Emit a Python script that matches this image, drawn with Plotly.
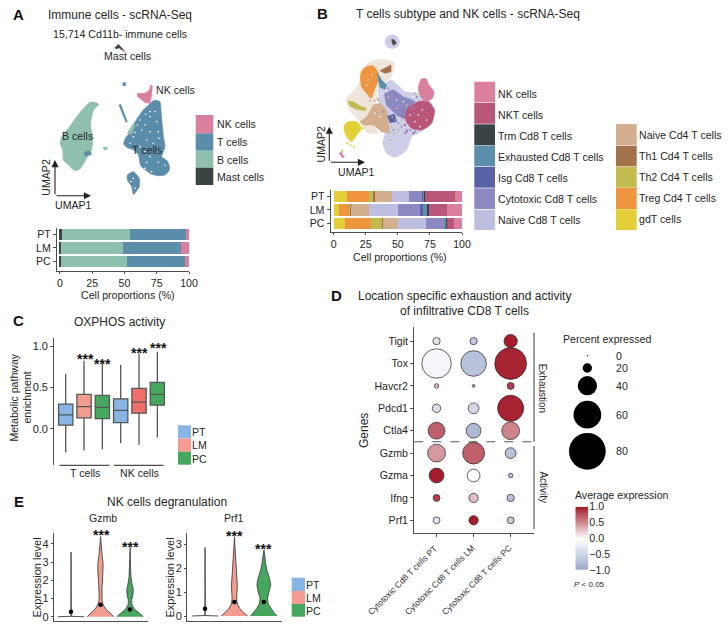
import numpy as np
import plotly.graph_objects as go

W, H = 728, 629
FONT = "Liberation Sans"
TXT = "#262626"
AXC = "#4d4d4d"
F = 10.6
FT = 12

# ---------- data ----------
loc = ["PT", "LM", "PC"]
a_mast = [1.2, 1.0, 0.5]
a_b = [53.3, 48.0, 51.5]
a_t = [43.2, 44.8, 45.2]
a_nk = [2.3, 6.2, 2.8]

b_gdt = [10.1, 4.4, 8.8]
b_treg = [17.4, 7.8, 20.2]
b_th2 = [2.9, 0.8, 9.0]
b_th1 = [1.8, 0.5, 0.5]
b_n4 = [13.0, 14.3, 11.5]
b_n8 = [13.8, 22.1, 21.7]
b_cyto = [9.6, 17.4, 14.3]
b_isg = [1.3, 2.1, 0.5]
b_exh = [0.7, 3.3, 1.3]
b_trm = [0.6, 1.6, 0.2]
b_nkt = [23.3, 13.7, 5.5]
b_nk = [5.5, 12.0, 6.5]

box_whishi = [0.668, 0.826, 0.785, 0.777, 0.910, 0.935]
box_q3 = [0.300, 0.417, 0.405, 0.364, 0.490, 0.563]
box_med = [0.170, 0.270, 0.260, 0.223, 0.324, 0.417]
box_q1 = [0.045, 0.134, 0.125, 0.077, 0.190, 0.287]
box_whislo = [-0.287, -0.263, -0.247, -0.174, -0.194, -0.105]

genes = ["Tigit", "Tox", "Havcr2", "Pdcd1", "Ctla4", "Gzmb", "Gzma", "Ifng", "Prf1"]
groups = ["Cytotoxic Cd8 T cells PT", "Cytotoxic Cd8 T cells LM", "Cytotoxic Cd8 T cells PC"]
pct_pt = [15, 64, 8, 18, 35, 37, 31, 14, 14]
pct_lm = [15, 55, 4, 23, 31, 46, 27, 20, 20]
pct_pc = [28, 69, 14, 56, 37, 23, 8, 15, 14]
exp_pt = [-0.3, -0.1, 0.3, -0.4, 0.7, 0.45, 1.0, 0.85, -0.3]
exp_lm = [-0.6, -0.7, -0.8, -0.45, -0.8, 0.7, 0.0, 0.3, 1.0]
exp_pc = [1.0, 0.97, 0.85, 0.97, 0.55, -0.7, -0.7, -0.7, -0.6]
pct_legend = [0, 20, 40, 60, 80]

vio_levels_gzmb_lm = [0, 0.2, 0.4, 0.65, 0.9, 1.2, 1.6, 2.0, 2.5, 2.9, 3.3, 3.7, 4.1, 4.4]
vio_width_gzmb_lm = [1.0, 0.72, 0.42, 0.2, 0.12, 0.1, 0.11, 0.15, 0.2, 0.2, 0.13, 0.07, 0.04, 0.01]
vio_levels_gzmb_pc = [0, 0.2, 0.4, 0.65, 0.9, 1.2, 1.5, 1.8, 2.2, 2.8, 3.3, 3.8]
vio_width_gzmb_pc = [1.0, 0.7, 0.35, 0.14, 0.12, 0.22, 0.24, 0.15, 0.07, 0.04, 0.025, 0.01]
vio_levels_gzmb_pt = [0, 0.02, 0.1, 3.55]
vio_width_gzmb_pt = [1.0, 0.02, 0.006, 0.004]
vio_levels_prf_lm = [0, 0.15, 0.3, 0.5, 0.75, 1.0, 1.3, 1.7, 2.1, 2.5, 2.9, 3.3]
vio_width_prf_lm = [1.0, 0.7, 0.42, 0.22, 0.17, 0.2, 0.22, 0.17, 0.12, 0.09, 0.04, 0.01]
vio_levels_prf_pc = [0, 0.15, 0.3, 0.5, 0.75, 1.0, 1.3, 1.6, 1.9, 2.2, 2.5, 2.75]
vio_width_prf_pc = [1.0, 0.75, 0.55, 0.33, 0.28, 0.42, 0.52, 0.42, 0.24, 0.13, 0.08, 0.01]
vio_levels_prf_pt = [0, 0.02, 0.1, 2.85]
vio_width_prf_pt = [1.0, 0.02, 0.006, 0.004]
dots_gzmb = [0.27, 0.65, 0.40]
dots_prf = [0.30, 0.58, 0.58]
cbar_levels = [-1.0, -0.8, -0.6, -0.4, -0.2, 0.0, 0.2, 0.4, 0.6, 0.8, 1.0]

# UMAP outlines (embedding units)
um_b = [(135,82),(146,88),(131,105),(125,125),(122,150),(128,190),(125,225),(110,250),(90,282),(75,287),(55,270),(40,255),(38,225),(30,205),(35,185),(55,160),(80,125),(105,95),(120,82)]
um_b2 = [(160,218),(170,216),(172,222),(162,224)]
um_b3 = [(232,175),(250,145),(255,150),(245,178)]
um_t_in_b = [(103,232),(118,228),(125,238),(105,242)]
um_t = [(298,88),(312,76),(330,80),(333,105),(335,130),(338,160),(341,190),(345,215),(338,235),(335,245),(350,256),(358,272),(358,285),(345,300),(325,302),(305,298),(288,286),(272,272),(268,252),(264,238),(250,224),(232,218),(221,207),(226,190),(240,172),(250,150),(262,130),(280,105)]
um_t2 = [(232,300),(250,290),(268,310),(268,335),(250,358),(245,335),(232,315)]
um_t3 = [(207,90),(212,88),(232,140),(228,142)]
um_t4 = [(218,25),(226,22),(227,31),(220,33)]
um_nk = [(262,55),(285,55),(298,45),(302,30),(307,32),(305,60),(300,85),(285,83),(270,70),(262,65)]
um_mast = [(195,-82),(205,-92),(212,-85),(222,-73),(216,-75),(207,-82),(199,-78)]
um_mast_tip = [(218,-75),(225,-72),(222,-69),(217,-72)]
um_holes = [(300,110),(287,118),(300,125),(270,135),(262,150),(285,150),(275,165),(300,170),(255,172),(320,140),(315,110),(250,185),(290,195),(310,205),(327,190),(285,230),(320,232),(333,222),(300,245),(290,262),(325,262),(345,270),(285,280),(250,310),(255,340),(243,320),(305,290),(270,215),(240,205),(325,170)]

ub_bg_beige = [(105,95),(150,88),(178,100),(175,125),(160,150),(130,165),(125,200),(120,290),(130,310),(100,310),(75,275),(40,235),(35,205),(60,180),(78,145),(85,115)]
ub_bg_lav = [(170,150),(210,185),(250,190),(285,215),(300,240),(285,285),(250,310),(230,320),(215,360),(180,382),(155,370),(143,340),(150,310),(140,280),(140,240),(130,170),(150,160)]
ub_top = [(172,14),(186,19),(194,36),(187,51),(172,56),(157,51),(150,36),(157,19)]
ub_top_mark = [(170,28),(178,30),(184,40),(175,46),(172,38)]
ub_treg = [(95,110),(115,108),(130,130),(128,155),(118,180),(108,205),(95,190),(80,170),(76,140),(82,120)]
ub_th1 = [(135,122),(150,115),(168,105),(168,125),(150,130)]
ub_exh = [(128,130),(140,150),(155,165),(150,178),(135,172),(130,150)]
ub_cyto = [(150,190),(175,180),(205,200),(240,215),(220,235),(210,265),(185,255),(170,240),(155,225)]
ub_nkt = [(215,240),(250,215),(280,215),(298,240),(290,280),(260,300),(230,295),(212,270)]
ub_nk = [(258,148),(272,145),(282,165),(297,185),(292,205),(270,215),(250,180)]
ub_isg = [(158,258),(178,253),(185,275),(165,278)]
ub_n4 = [(115,225),(135,220),(155,240),(162,285),(165,310),(140,305),(115,285),(85,285),(75,275),(95,260)]
ub_th2 = [(38,212),(55,215),(75,228),(95,235),(90,242),(65,238),(45,228)]
ub_gdt = [(40,275),(65,275),(80,295),(65,315),(50,335),(38,325),(27,300),(28,285)]
ub_nk2 = [(13,370),(22,362),(20,370),(28,382),(22,383)]
ub_spk_gdt = [(37,340),(47,345),(57,350),(22,362),(85,295)]
ub_spk_n4 = [(170,290),(190,300),(210,285),(165,330),(200,270),(135,215),(185,235),(215,225),(150,285),(240,190),(178,310),(128,205),(118,212),(172,262),(105,212),(160,200)]
ub_spk_cyto = [(225,300),(180,270),(235,250),(150,175),(200,290),(130,210),(260,200),(240,305),(190,280),(175,300),(215,300),(145,245),(210,310),(245,200),(160,175),(225,220),(235,235)]
ub_spk_nkt = [(205,260),(210,285),(215,305),(235,310),(222,232),(240,225),(205,245)]
ub_spk_white = [(120,200),(128,175),(155,185),(225,255),(250,255),(262,240),(275,270),(240,275),(255,290),(205,215),(185,210),(135,260),(120,250),(100,150),(110,135),(95,165),(235,200),(140,190)]

# ---------- styles ----------
CA = dict(NK="#DB7F9E", T="#5B8DAB", B="#8FC0AE", Mast="#3A4445")
CB = dict(NK="#DB7F9E", NKT="#B85578", Trm="#394345", Exh="#5B8FAB", Isg="#5862A5", Cyto="#8C88C2",
          N8="#BDBEE0", N4="#D3AE8F", Th1="#A3714A", Th2="#C1BA4E", Treg="#EF943F", Gdt="#E3CF38")
C_PT, C_LM, C_PC = "#87B5E5", "#F49C90", "#45A85E"
box_fill = [C_PT, C_LM, C_PC, C_PT, "#EF706A", C_PC]

fig = go.Figure()
layout = {}
ann = []
shp = []
_n = [0]


def axes(l, r, t, b, xr, yr, xvis=False, yvis=False, xextra=None, yextra=None):
    _n[0] += 1
    n = _n[0]
    base = dict(showgrid=False, zeroline=False, showline=False, ticks="", showticklabels=False, fixedrange=True,
                automargin=False)
    xa = dict(base, domain=[l / W, r / W], range=xr, anchor=f"y{n}")
    ya = dict(base, domain=[1 - b / H, 1 - t / H], range=yr, anchor=f"x{n}")
    style = dict(showline=True, linecolor=AXC, linewidth=1.3, ticks="outside", ticklen=3, tickwidth=1,
                 tickcolor=AXC, showticklabels=True, tickfont=dict(size=F, color=TXT, family=FONT))
    if xvis:
        xa.update(style)
    if yvis:
        ya.update(style)
    xa.update(xextra or {})
    ya.update(yextra or {})
    layout["xaxis" if n == 1 else f"xaxis{n}"] = xa
    layout["yaxis" if n == 1 else f"yaxis{n}"] = ya
    return ("x" if n == 1 else f"x{n}"), ("y" if n == 1 else f"y{n}")


# full-canvas page axis for labels and rules
axes(0, W, 0, H, [0, W], [H, 0])
fig.add_trace(go.Scatter(x=[0], y=[0], mode="markers", marker=dict(size=1, color="rgba(0,0,0,0)"), hoverinfo="skip"))


def note(x, y, text, size=F, anchor="center", angle=0, color=TXT):
    ann.append(dict(x=x, y=y, xref="x", yref="y", text=text, showarrow=False,
                    font=dict(size=size, color=color, family=FONT), xanchor=anchor, yanchor="middle",
                    textangle=angle, borderpad=0, borderwidth=0, align="center"))


def rect(l, t, r, b, color):
    shp.append(dict(type="rect", xref="x", yref="y", x0=l, x1=r, y0=b, y1=t,
                    fillcolor=color, line=dict(width=0), layer="below"))


def seg(x0, y0, x1, y1, color=AXC, width=1.2, dash="solid"):
    shp.append(dict(type="line", xref="x", yref="y", x0=x0, x1=x1, y0=y0, y1=y1,
                    line=dict(color=color, width=width, dash=dash)))


def arrow(x0, y0, x1, y1):
    ann.append(dict(x=x1, y=y1, xref="x", yref="y", ax=x0 - x1, ay=y0 - y1, text="",
                    showarrow=True, arrowhead=2, arrowsize=1.3, arrowwidth=1.1, arrowcolor="#222222", standoff=0))


def poly(pts, color, xa, ya, lw=0.6, smooth=True):
    xs = [p[0] for p in pts] + [pts[0][0]]
    ys = [p[1] for p in pts] + [pts[0][1]]
    line = dict(color=color, width=lw)
    if smooth:
        line.update(shape="spline", smoothing=0.6)
    fig.add_trace(go.Scatter(x=xs, y=ys, mode="lines", fill="toself", fillcolor=color,
                             line=line, xaxis=xa, yaxis=ya, hoverinfo="skip"))


def specks(pts, color, xa, ya, size=2.0):
    fig.add_trace(go.Scatter(x=[p[0] for p in pts], y=[p[1] for p in pts], mode="markers",
                             marker=dict(color=color, size=size), xaxis=xa, yaxis=ya, hoverinfo="skip"))


def stacked(series, colors, xa, ya):
    for vals, c in zip(series, colors):
        fig.add_trace(go.Bar(y=loc, x=vals, orientation="h", marker=dict(color=c, line=dict(width=0)), width=0.86,
                             xaxis=xa, yaxis=ya, hoverinfo="skip"))


# ---------- panel A ----------
xa, ya = axes(50, 175, 40, 200, [0, 375], [375, -105])
poly(um_b, CA["B"], xa, ya)
poly(um_b2, CA["B"], xa, ya)
poly(um_t_in_b, CA["T"], xa, ya)
poly(um_t, CA["T"], xa, ya)
poly(um_t2, CA["T"], xa, ya)
poly(um_t3, CA["T"], xa, ya, smooth=False)
poly(um_t4, CA["T"], xa, ya)
poly(um_b3, CA["B"], xa, ya, smooth=False)
poly(um_nk, CA["NK"], xa, ya, smooth=False)
poly(um_mast, CA["Mast"], xa, ya, smooth=False)
poly(um_mast_tip, CA["NK"], xa, ya, smooth=False)
specks(um_holes, "#ffffff", xa, ya, size=1.6)

tick100 = dict(tickvals=[0, 25, 50, 75, 100], ticklen=2)
xa, ya = axes(57, 189, 227.7, 270.7, [-2.3, 100], [-0.68, 2.5], xvis=True, yvis=True, xextra=tick100,
              yextra=dict(type="category", categoryorder="array", categoryarray=["PC", "LM", "PT"]))
stacked([a_mast, a_b, a_t, a_nk], [CA["Mast"], CA["B"], CA["T"], CA["NK"]], xa, ya)

note(18.5, 14, "<b>A</b>", 15, color="#111111")
note(119.7, 14.7, "Immune cells - scRNA-Seq", FT)
note(119.7, 34.3, "15,714 Cd11b- immune cells", F)
note(127.7, 56.3, "Mast cells", F)
note(155.7, 90.3, "NK cells", F, anchor="left")
note(77.7, 136, "B cells", F)
note(147.3, 150.3, "T cells", F)
note(73, 205, "UMAP1", F)
note(46, 177.7, "UMAP2", F, angle=-90)
arrow(55, 195.7, 55, 160)
arrow(55, 195.7, 91, 195.7)
note(127.7, 295, "Cell proportions (%)", F)
for (t, b, c) in [(115, 133.3, CA["NK"]), (133.3, 150.7, CA["T"]), (150.7, 167.7, CA["B"]), (167.7, 185, CA["Mast"])]:
    rect(195.7, t, 213.3, b, c)
for y, s in zip([124, 142, 159.7, 177], ["NK cells", "T cells", "B cells", "Mast cells"]):
    note(217, y, s, F, anchor="left")

# ---------- panel B ----------
xa, ya = axes(335, 445, 30, 165, [0, 330], [405, 0])
poly(ub_bg_beige, "#EFE5DA", xa, ya)
poly(ub_bg_lav, "#CDCFE9", xa, ya)
poly(ub_top, "#CDCFE9", xa, ya)
poly(ub_top_mark, "#4A4540", xa, ya, smooth=False)
poly(ub_treg, CB["Treg"], xa, ya)
poly(ub_th1, CB["Th1"], xa, ya, smooth=False)
poly(ub_exh, CB["Exh"], xa, ya, smooth=False)
poly(ub_cyto, CB["Cyto"], xa, ya)
poly(ub_nkt, CB["NKT"], xa, ya)
poly(ub_nk, CB["NK"], xa, ya)
poly(ub_n4, CB["N4"], xa, ya, smooth=False)
poly(ub_isg, CB["Isg"], xa, ya, smooth=False)
poly(ub_th2, CB["Th2"], xa, ya, smooth=False)
poly(ub_gdt, CB["Gdt"], xa, ya)
poly(ub_nk2, CB["NK"], xa, ya, smooth=False)
specks(ub_spk_white, "#ffffff", xa, ya, size=1.6)
specks(ub_spk_gdt, CB["Gdt"], xa, ya)
specks(ub_spk_n4, CB["N4"], xa, ya)
specks(ub_spk_cyto, CB["Cyto"], xa, ya)
specks(ub_spk_nkt, CB["NKT"], xa, ya)

xa, ya = axes(330.7, 462, 190, 232, [-2.3, 100], [-0.63, 2.48], xvis=True, yvis=True, xextra=tick100,
              yextra=dict(type="category", categoryorder="array", categoryarray=["PC", "LM", "PT"]))
stacked([b_gdt, b_treg, b_th2, b_th1, b_n4, b_n8, b_cyto, b_isg, b_exh, b_trm, b_nkt, b_nk],
        [CB[k] for k in ["Gdt", "Treg", "Th2", "Th1", "N4", "N8", "Cyto", "Isg", "Exh", "Trm", "NKT", "NK"]], xa, ya)

note(322, 13.5, "<b>B</b>", 15, color="#111111")
note(467.7, 14.3, "T cells subtype and NK cells - scRNA-Seq", FT)
note(356, 172, "UMAP1", F)
note(320, 144.5, "UMAP2", F, angle=-90)
arrow(329.3, 162.3, 329.3, 126.7)
arrow(329.3, 162.3, 365, 162.3)
note(400, 256.5, "Cell proportions (%)", F)
b1_lab = ["NK cells", "NKT cells", "Trm Cd8 T cells", "Exhausted Cd8 T cells", "Isg Cd8 T cells",
          "Cytotoxic Cd8 T cells", "Naive Cd8 T cells"]
b1_col = ["NK", "NKT", "Trm", "Exh", "Isg", "Cyto", "N8"]
b1_top = [81.7, 102.7, 124.3, 145.7, 166.7, 188.3, 209.7]
b1_bot = [102, 123.7, 145.3, 166, 187.7, 209, 230]
b1_y = [94, 114.7, 136, 157, 178.3, 199.3, 220.3]
for s, c, t, b, y in zip(b1_lab, b1_col, b1_top, b1_bot, b1_y):
    rect(474.3, t, 495, b, CB[c])
    note(497.7, y, s, F, anchor="left")
b2_lab = ["Naive Cd4 T cells", "Th1 Cd4 T cells", "Th2 Cd4 T cells", "Treg Cd4 T cells", "gdT cells"]
b2_col = ["N4", "Th1", "Th2", "Treg", "Gdt"]
b2_top = [124, 145.7, 166.7, 188, 209.3]
b2_bot = [145, 166.3, 187.7, 209, 230]
b2_y = [134.7, 156, 177.3, 198.3, 219.3]
for s, c, t, b, y in zip(b2_lab, b2_col, b2_top, b2_bot, b2_y):
    rect(616, t, 636.7, b, CB[c])
    note(639.3, y, s, F, anchor="left")

# ---------- panel C ----------
xa, ya = axes(54.3, 165, 338, 465, [0.378, 6.417], [-0.437, 1.10], yvis=True,
              yextra=dict(tickvals=[0, 0.5, 1], ticktext=["0.0", "0.5", "1.0"], tickfont=dict(size=11, color=TXT, family=FONT)))
for i in range(6):
    fig.add_trace(go.Box(x=[i + 1], q1=[box_q1[i]], median=[box_med[i]], q3=[box_q3[i]],
                         lowerfence=[box_whislo[i]], upperfence=[box_whishi[i]], width=0.78, whiskerwidth=0,
                         fillcolor=box_fill[i], line=dict(color="#555555", width=1.3), boxpoints=False,
                         xaxis=xa, yaxis=ya, hoverinfo="skip"))
note(18, 320.7, "<b>C</b>", 15, color="#111111")
note(119.3, 321.7, "OXPHOS activity", FT)
note(14.3, 397.3, "Metabolic pathway", F, angle=-90)
note(27.3, 397.3, "enrichment", F, angle=-90)
seg(59.5, 465.3, 109.5, 465.3)
seg(114, 465.3, 163.5, 465.3)
note(84.5, 472.5, "T cells", F)
note(139, 472.5, "NK cells", F)
for x, y in [(85.7, 358.5), (102.7, 363.5), (139, 352.8), (158, 347.8)]:
    note(x, y, "<b>***</b>", 14, color="#111111")
for t, b, c in [(425.3, 438.5, C_PT), (438.5, 451.7, C_LM), (451.7, 464.7, C_PC)]:
    rect(178, t, 191, b, c)
for y, s in zip([432, 445, 458.5], loc):
    note(191.5, y, s, F, anchor="left")

# ---------- panel E ----------
E_HALF = 0.45


def violin(levels, widths, centre, fill, xa, ya):
    w = np.array(widths) * E_HALF
    xs = np.concatenate([centre - w, (centre + w)[::-1]])
    ys = list(levels) + list(levels)[::-1]
    fig.add_trace(go.Scatter(x=xs, y=ys, mode="lines", fill="toself", fillcolor=fill,
                             line=dict(color="#444444", width=0.9), xaxis=xa, yaxis=ya, hoverinfo="skip"))


e_ticks = dict(tickfont=dict(size=11, color=TXT, family=FONT), ticklen=2)
xa, ya = axes(54, 148, 533, 620.7, [0.424, 3.61], [-0.22, 4.6], xvis=True, yvis=True,
              xextra=dict(ticks="", showticklabels=False), yextra=dict(tickvals=[0, 1, 2, 3, 4], **e_ticks))
violin(vio_levels_gzmb_pt, vio_width_gzmb_pt, 1, C_PT, xa, ya)
violin(vio_levels_gzmb_lm, vio_width_gzmb_lm, 2, C_LM, xa, ya)
violin(vio_levels_gzmb_pc, vio_width_gzmb_pc, 3, C_PC, xa, ya)
fig.add_trace(go.Scatter(x=[1, 2, 3], y=dots_gzmb, mode="markers", marker=dict(color="black", size=4.5),
                         xaxis=xa, yaxis=ya, hoverinfo="skip"))
xa, ya = axes(187.3, 281.7, 533, 620.7, [0.397, 3.61], [-0.195, 3.46], xvis=True, yvis=True,
              xextra=dict(ticks="", showticklabels=False), yextra=dict(tickvals=[0, 1, 2, 3], **e_ticks))
violin(vio_levels_prf_pt, vio_width_prf_pt, 1, C_PT, xa, ya)
violin(vio_levels_prf_lm, vio_width_prf_lm, 2, C_LM, xa, ya)
violin(vio_levels_prf_pc, vio_width_prf_pc, 3, C_PC, xa, ya)
fig.add_trace(go.Scatter(x=[1, 2, 3], y=dots_prf, mode="markers", marker=dict(color="black", size=4.5),
                         xaxis=xa, yaxis=ya, hoverinfo="skip"))
note(18.5, 501, "<b>E</b>", 15, color="#111111")
note(166.7, 501.7, "NK cells degranulation", FT)
note(103.3, 518.3, "Gzmb", F)
note(234.3, 518.3, "Prf1", F)
note(36.5, 578, "Expression level", 11, angle=-90)
note(169.5, 578, "Expression level", 11, angle=-90)
for x, y in [(101, 535), (130, 546.6), (234, 535.6), (263.7, 549)]:
    note(x, y, "<b>***</b>", 14, color="#111111")
for t, b, c in [(577.7, 591, C_PT), (591, 604, C_LM), (604, 616.7, C_PC)]:
    rect(291.7, t, 305, b, c)
for y, s in zip([585, 598, 611], loc):
    note(306, y, s, F, anchor="left")

# ---------- panel D ----------
SIZE_PCT = [0, 20, 40, 60, 80]
SIZE_PX = [1.2, 9.3, 19.3, 27.7, 36.7]
COLORS = [[0, "#9AA9CB"], [0.5, "#ffffff"], [1, "#A51C2C"]]


def dsize(p):
    return np.interp(p, SIZE_PCT, SIZE_PX)


xa, ya = axes(414.3, 534, 327, 533.3, [-0.6, 2.63], [-0.58, 8.63], xvis=True, yvis=True,
              xextra=dict(tickvals=[0, 1, 2], showticklabels=False),
              yextra=dict(tickvals=list(range(9)), ticktext=genes[::-1]))
for i, (pcts, exps) in enumerate([(pct_pt, exp_pt), (pct_lm, exp_lm), (pct_pc, exp_pc)]):
    fig.add_trace(go.Scatter(
        x=[i] * 9, y=[8 - k for k in range(9)], mode="markers",
        marker=dict(size=dsize(pcts), color=exps, cmin=-1, cmax=1, colorscale=COLORS,
                    line=dict(color="#222222", width=0.7), opacity=1, showscale=False),
        xaxis=xa, yaxis=ya, hoverinfo="skip"))
for x, g in zip([402.5, 439.5, 476.5], groups):
    note(x, 579.5, g, 8.6, angle=-45, color="#333333")
note(336.5, 295, "<b>D</b>", 15, color="#111111")
note(464, 296, "Location specific exhaustion and activity", FT)
note(464, 310.7, "of infiltrative CD8 T cells", FT)
note(364, 431, "Genes", 12, angle=-90)
seg(414.3, 441.7, 534, 441.7, "#555555", 1.1, "dash")
seg(534, 332.7, 534, 441.7, "#555555", 1.2)
seg(534, 446, 534, 529, "#555555", 1.2)
note(543.3, 388, "Exhaustion", 10, angle=90)
note(543.3, 487.7, "Activity", 10, angle=90)

xa, ya = axes(560, 640, 345, 475, [0, 1], [475, 345])
leg_y = [355.7, 368, 385.7, 414.7, 451.3]
fig.add_trace(go.Scatter(x=[0.342] * 5, y=leg_y, mode="markers",
                         marker=dict(size=dsize(pct_legend), color="black", opacity=1, line=dict(width=0)),
                         xaxis=xa, yaxis=ya, hoverinfo="skip"))
note(563.3, 339.3, "Percent expressed", F, anchor="left")
for y, v in zip(leg_y, pct_legend):
    note(616, y, str(v), F, anchor="left")

xa, ya = axes(575.3, 588.3, 506.7, 570, [0, 1], [-1, 1],
              yextra=dict(side="right", showticklabels=True, tickvals=[-1, -0.5, 0, 0.5, 1],
                          ticktext=["−1.0", "−0.5", "0.0", "0.5", "1.0"],
                          tickfont=dict(size=F, color=TXT, family=FONT)))
fig.add_trace(go.Heatmap(x=[0.5], y=cbar_levels, z=[[v] for v in cbar_levels], zmin=-1, zmax=1, zsmooth="best",
                         colorscale=COLORS, showscale=False, xaxis=xa, yaxis=ya, hoverinfo="skip"))
note(575.3, 495.3, "Average expression", F, anchor="left")
note(574.3, 584.3, "<i>P</i> &lt; 0.05", 8, anchor="left")

fig.update_layout(width=W, height=H, margin=dict(l=0, r=0, t=0, b=0), autosize=False, showlegend=False,
                  barmode="stack", bargap=0.1, paper_bgcolor="white", plot_bgcolor="rgba(0,0,0,0)",
                  font=dict(family=FONT, color=TXT), annotations=ann, shapes=shp, **layout)
fig.write_html("out.html", config=dict(displayModeBar=False),
               post_script="document.body.style.margin='0';document.body.style.overflow='hidden';")
